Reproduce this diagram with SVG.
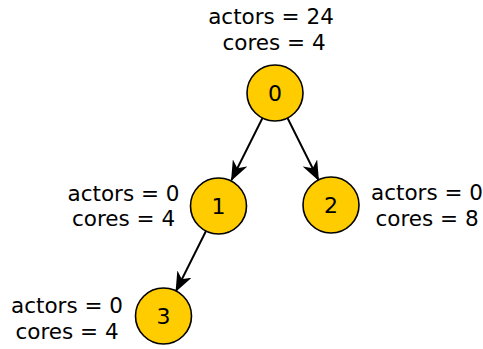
<svg xmlns="http://www.w3.org/2000/svg" width="483" height="349" viewBox="0 0 483 349">
<style>
.node circle{fill:#FFCC00;stroke:#000;stroke-width:1.6}
text{font-family:"DejaVu Sans",sans-serif;font-size:21.5px;fill:#000;text-anchor:middle}
.num{font-size:22px}
.edge{stroke:#000;stroke-width:2;fill:none;marker-end:url(#ah)}
</style>
<defs>
<marker id="ah" viewBox="0 0 20 16" refX="19" refY="8" markerWidth="20" markerHeight="16" markerUnits="userSpaceOnUse" orient="auto">
<path d="M0,0 L20,8 L0,16 L6,8 Z" fill="#000"/>
</marker>
</defs>
<rect width="483" height="349" fill="#fff"/>
<g id="connectors">
<line class="edge" x1="262.5" y1="118" x2="231.5" y2="180"/>
<line class="edge" x1="287.5" y1="118" x2="318.5" y2="180"/>
<line class="edge" x1="206" y1="231" x2="176" y2="291"/>
</g>
<g id="node0" class="node">
<circle cx="275" cy="93" r="28"/>
<text class="num" x="275" y="101">0</text>
<text x="271" y="24">actors = 24</text>
<text x="274" y="50">cores = 4</text>
</g>
<g id="node1" class="node">
<circle cx="218.5" cy="206" r="28"/>
<text class="num" x="218.5" y="214">1</text>
<text x="123.5" y="201">actors = 0</text>
<text x="123.5" y="226">cores = 4</text>
</g>
<g id="node2" class="node">
<circle cx="331" cy="205" r="28"/>
<text class="num" x="331" y="213">2</text>
<text x="427" y="200">actors = 0</text>
<text x="427" y="226">cores = 8</text>
</g>
<g id="node3" class="node">
<circle cx="163.5" cy="316" r="28"/>
<text class="num" x="163.5" y="324">3</text>
<text x="67" y="313">actors = 0</text>
<text x="67" y="339">cores = 4</text>
</g>
</svg>
